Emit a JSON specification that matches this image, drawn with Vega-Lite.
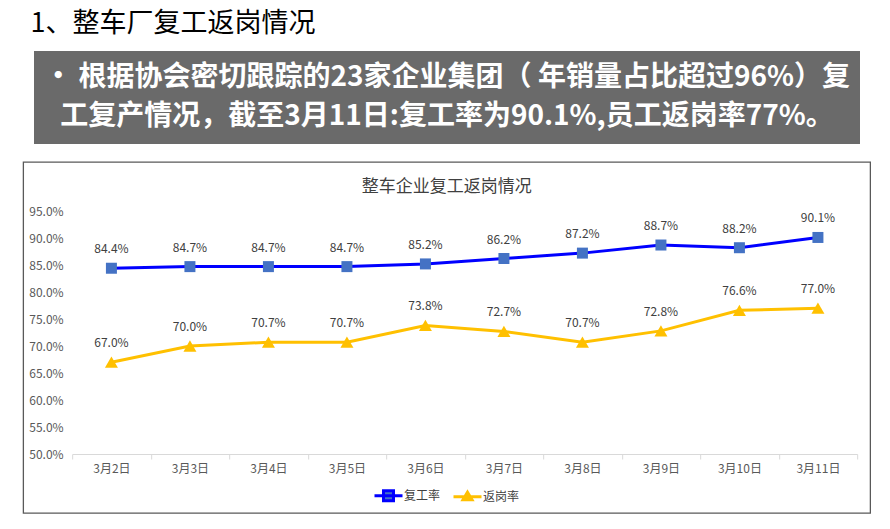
{
  "$schema": "https://vega.github.io/schema/vega-lite/v6.json",
  "background": "white",
  "padding": {"left": 22, "top": 10, "right": 0, "bottom": 0},
  "title": {
    "text": "1、整车厂复工返岗情况",
    "anchor": "start",
    "fontSize": 27,
    "font": "Noto Sans CJK SC",
    "fontWeight": "normal",
    "color": "#000000",
    "offset": 13,
    "dx": 8
  },
  "config": {
    "font": "Noto Sans CJK SC",
    "view": {"stroke": null}
  },
  "spacing": 17,
  "center": true,
  "vconcat": [
    {
      "width": 826,
      "height": 93,
      "view": {"fill": "#6a6a6a", "stroke": null},
      "data": {
        "values": [
          {"line": 1, "text": "· 根据协会密切跟踪的23家企业集团（ 年销量占比超过96%）复"},
          {"line": 2, "text": "工复产情况，截至3月11日:复工率为90.1%,员工返岗率77%。"}
        ]
      },
      "mark": {"type": "text", "fontSize": 28, "fontWeight": "bold", "color": "white", "baseline": "middle", "align": "center"},
      "encoding": {
        "y": {"field": "line", "type": "ordinal", "axis": null, "scale": {"type": "point", "padding": 0.675}},
        "text": {"field": "text"}
      }
    },
    {
      "width": 847,
      "height": 351,
      "view": {"stroke": "#595959", "strokeWidth": 1.3},
      "title": {
        "text": "整车企业复工返岗情况",
        "fontSize": 17,
        "fontWeight": "normal",
        "color": "#404040",
        "offset": -34,
        "anchor": "middle",
        "frame": "group"
      },
      "data": {
        "values": [
          {"date": "3月2日", "series": "复工率", "value": 0.844},
          {"date": "3月2日", "series": "返岗率", "value": 0.670},
          {"date": "3月3日", "series": "复工率", "value": 0.847},
          {"date": "3月3日", "series": "返岗率", "value": 0.700},
          {"date": "3月4日", "series": "复工率", "value": 0.847},
          {"date": "3月4日", "series": "返岗率", "value": 0.707},
          {"date": "3月5日", "series": "复工率", "value": 0.847},
          {"date": "3月5日", "series": "返岗率", "value": 0.707},
          {"date": "3月6日", "series": "复工率", "value": 0.852},
          {"date": "3月6日", "series": "返岗率", "value": 0.738},
          {"date": "3月7日", "series": "复工率", "value": 0.862},
          {"date": "3月7日", "series": "返岗率", "value": 0.727},
          {"date": "3月8日", "series": "复工率", "value": 0.872},
          {"date": "3月8日", "series": "返岗率", "value": 0.707},
          {"date": "3月9日", "series": "复工率", "value": 0.887},
          {"date": "3月9日", "series": "返岗率", "value": 0.728},
          {"date": "3月10日", "series": "复工率", "value": 0.882},
          {"date": "3月10日", "series": "返岗率", "value": 0.766},
          {"date": "3月11日", "series": "复工率", "value": 0.901},
          {"date": "3月11日", "series": "返岗率", "value": 0.770}
        ]
      },
      "encoding": {
        "x": {
          "field": "date",
          "type": "ordinal",
          "sort": null,
          "scale": {"type": "band", "range": [49, 834], "paddingInner": 0, "paddingOuter": 0},
          "axis": {
            "title": null,
            "offset": -59,
            "grid": false,
            "domainColor": "#d9d9d9",
            "tickColor": "#d9d9d9",
            "tickSize": 5,
            "tickBand": "extent",
            "labelAngle": 0,
            "labelPadding": 4,
            "labelFontSize": 12,
            "labelColor": "#595959"
          }
        },
        "y": {
          "field": "value",
          "type": "quantitative",
          "scale": {"domain": [0.5, 0.95], "range": [292, 49], "nice": false, "zero": false},
          "axis": {
            "title": null,
            "values": [0.5, 0.55, 0.6, 0.65, 0.7, 0.75, 0.8, 0.85, 0.9, 0.95],
            "format": ".1%",
            "offset": -49,
            "domain": false,
            "ticks": false,
            "grid": false,
            "labelPadding": 9,
            "labelFontSize": 12,
            "labelColor": "#595959"
          }
        }
      },
      "layer": [
        {
          "mark": {"type": "line", "strokeWidth": 3},
          "encoding": {
            "stroke": {
              "field": "series",
              "type": "nominal",
              "scale": {"domain": ["复工率", "返岗率"], "range": ["#0000FF", "#FFC000"]},
              "legend": {
                "orient": "none",
                "legendX": 359,
                "legendY": 438,
                "direction": "horizontal",
                "title": null,
                "padding": 0,
                "symbolSize": 100,
                "symbolStrokeWidth": 3,
                "labelFontSize": 12,
                "labelColor": "#404040",
                "labelOffset": 9,
                "columnPadding": 6,
                "encode": {
                  "symbols": {
                    "update": {
                      "shape": {"signal": "datum.value === '复工率' ? 'M-2.8,0H2.8M-1,-1H1V1H-1Z' : 'M-2.8,0H2.8M0,-0.9L0.9,0.6H-0.9Z'"},
                      "fill": {"signal": "datum.value === '复工率' ? '#4472C4' : '#FFC000'"}
                    }
                  }
                }
              }
            }
          }
        },
        {
          "transform": [{"filter": "datum.series === '复工率'"}],
          "mark": {"type": "point", "shape": "square", "filled": true, "opacity": 1, "size": 121, "color": "#4472C4"}
        },
        {
          "transform": [{"filter": "datum.series === '返岗率'"}],
          "mark": {"type": "point", "shape": "triangle-up", "filled": true, "opacity": 1, "size": 169, "color": "#FFC000"}
        },
        {
          "mark": {"type": "text", "dy": -19, "fontSize": 12, "color": "#404040"},
          "encoding": {
            "text": {"field": "value", "type": "quantitative", "format": ".1%"}
          }
        }
      ]
    }
  ]
}
